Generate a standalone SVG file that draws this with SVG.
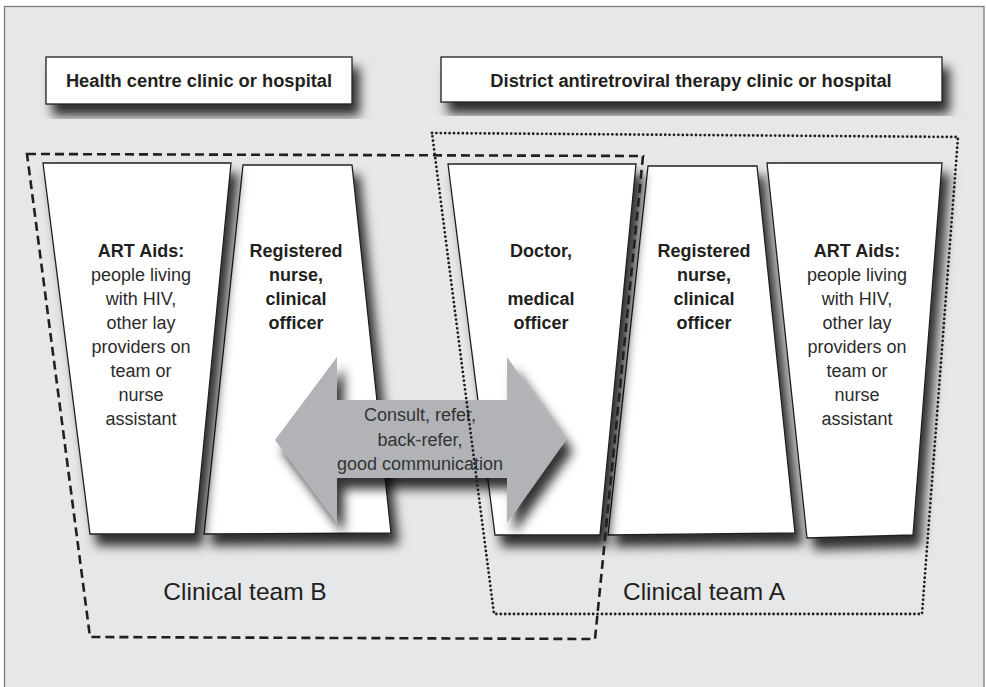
<svg xmlns="http://www.w3.org/2000/svg" width="986" height="687" viewBox="0 0 986 687">
<defs>
<style>
.box{fill:#fff;stroke:#231f20;stroke-width:1.3;filter:url(#sh)}
.hdr{font-family:"Liberation Sans",Arial,sans-serif;font-weight:bold;font-size:18.3px;fill:#231f20;text-anchor:middle}
.b{font-family:"Liberation Sans",Arial,sans-serif;font-weight:bold;font-size:18px;fill:#231f20;text-anchor:middle}
.r{font-family:"Liberation Sans",Arial,sans-serif;font-size:18px;fill:#2b2b2b;text-anchor:middle}
.arr{font-family:"Liberation Sans",Arial,sans-serif;font-size:18px;fill:#333;text-anchor:middle}
.team{font-family:"Liberation Sans",Arial,sans-serif;font-size:24.5px;fill:#231f20;text-anchor:middle}
.dash{fill:none;stroke:#231f20;stroke-width:2.6;stroke-dasharray:9 5}
.dot{fill:none;stroke:#231f20;stroke-width:2.8;stroke-dasharray:0 4.4;stroke-linecap:round}
</style>
<filter id="sh" x="-20%" y="-20%" width="150%" height="150%">
<feDropShadow dx="7" dy="11" stdDeviation="5.5" flood-color="#000" flood-opacity="0.8"/>
</filter>
</defs>
<rect x="0" y="0" width="986" height="687" fill="#fff"/>
<rect id="frame" x="4.5" y="6.5" width="979.5" height="690" fill="#e6e7e8" stroke="#7d7d7d" stroke-width="1.3"/>

<g id="header-health-centre">
<rect class="box" x="46" y="57" width="306" height="47"/>
<text class="hdr" x="199" y="87">Health centre clinic or hospital</text>
</g>
<g id="header-district">
<rect class="box" x="441" y="57" width="501" height="45"/>
<text class="hdr" x="691" y="87">District antiretroviral therapy clinic or hospital</text>
</g>

<g id="node-nurse-b">
<polygon class="box" points="243,165 352,165 391,533 204,534"/>
<text class="b" x="296" y="257">Registered</text>
<text class="b" x="296" y="281">nurse,</text>
<text class="b" x="296" y="305">clinical</text>
<text class="b" x="296" y="329">officer</text>
</g>
<g id="node-art-aids-b">
<polygon class="box" points="43,163 231,163 195,534 90,534"/>
<text class="b" x="141" y="257">ART Aids:</text>
<text class="r" x="141" y="281">people living</text>
<text class="r" x="141" y="305">with HIV,</text>
<text class="r" x="141" y="329">other lay</text>
<text class="r" x="141" y="353">providers on</text>
<text class="r" x="141" y="377">team or</text>
<text class="r" x="141" y="401">nurse</text>
<text class="r" x="141" y="425">assistant</text>
</g>
<g id="node-nurse-a">
<polygon class="box" points="648,166 757,166 795,533 608,535"/>
<text class="b" x="704" y="257">Registered</text>
<text class="b" x="704" y="281">nurse,</text>
<text class="b" x="704" y="305">clinical</text>
<text class="b" x="704" y="329">officer</text>
</g>
<g id="node-doctor-a">
<polygon class="box" points="448,164 636,164 600,535 495,535"/>
<text class="b" x="541" y="257">Doctor,</text>
<text class="b" x="541" y="305">medical</text>
<text class="b" x="541" y="329">officer</text>
</g>
<g id="node-art-aids-a">
<polygon class="box" points="767,163 942,163 913,535 807,538"/>
<text class="b" x="857" y="257">ART Aids:</text>
<text class="r" x="857" y="281">people living</text>
<text class="r" x="857" y="305">with HIV,</text>
<text class="r" x="857" y="329">other lay</text>
<text class="r" x="857" y="353">providers on</text>
<text class="r" x="857" y="377">team or</text>
<text class="r" x="857" y="401">nurse</text>
<text class="r" x="857" y="425">assistant</text>
</g>

<g id="connectors">
<polygon points="275,440 337,357 337,400 507,400 507,357 566,440 507,523 507,478 337,478 337,523" fill="#b1b3b6" filter="url(#sh)"/>
<text class="arr" x="420" y="421">Consult, refer,</text>
<text class="arr" x="420" y="446">back-refer,</text>
<text class="arr" x="420" y="470">good communication</text>
</g>

<g id="team-b">
<path class="dash" d="M27,154 L643,156 L595,639 L90,637 Z"/>
<text class="team" x="245" y="600">Clinical team B</text>
</g>
<g id="team-a">
<path class="dot" d="M432,133 L958,137 L922,614 L494,614 Z"/>
<text class="team" x="704" y="600">Clinical team A</text>
</g>
</svg>
